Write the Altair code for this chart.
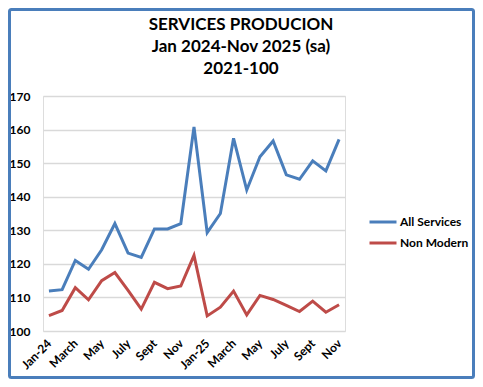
import altair as alt
import pandas as pd

months = [
    "Jan-24", "Feb-24", "Mar-24", "Apr-24", "May-24", "Jun-24", "Jul-24", "Aug-24",
    "Sep-24", "Oct-24", "Nov-24", "Dec-24", "Jan-25", "Feb-25", "Mar-25", "Apr-25",
    "May-25", "Jun-25", "Jul-25", "Aug-25", "Sep-25", "Oct-25", "Nov-25",
]
tick_labels = ["Jan-24", "March", "May", "July", "Sept", "Nov",
               "Jan-25", "March", "May", "July", "Sept", "Nov"]
all_services = [111.9, 112.3, 121.0, 118.4, 124.2, 132.0, 123.2, 121.9, 130.4, 130.4, 132.0, 160.8,
                129.3, 135.0, 157.4, 142.0, 151.9, 156.6, 146.5, 145.2, 150.7, 147.7, 157.1]
non_modern = [104.6, 106.1, 112.9, 109.3, 115.0, 117.4, 112.1, 106.5, 114.5, 112.6, 113.4, 122.5,
              104.5, 107.1, 111.9, 104.8, 110.6, 109.4, 107.6, 105.8, 108.9, 105.6, 107.8]
series_names = ["All Services", "Non Modern"]
series_colors = ["#4A7EBB", "#BE4B48"]
title_lines = ["SERVICES PRODUCION", "Jan 2024-Nov 2025 (sa)", "2021-100"]

rows = []
for i, m in enumerate(months):
    rows.append({"idx": i, "month": m, "series": series_names[0], "value": all_services[i]})
    rows.append({"idx": i, "month": m, "series": series_names[1], "value": non_modern[i]})
df = pd.DataFrame(rows)

label_arr = "[" + ",".join("'" + t + "'" for t in tick_labels) + "]"
FONT = "Lato"

lines = alt.Chart(df).mark_line(strokeWidth=3).encode(
    x=alt.X("idx:Q",
            scale=alt.Scale(domain=[-0.45, 22.45], nice=False, zero=False),
            axis=alt.Axis(values=list(range(0, 23, 2)), labelExpr=label_arr + "[datum.value/2]",
                          labelAngle=-45, labelAlign="right", labelBaseline="middle",
                          labelPadding=10, labelOverlap=False, grid=False, domain=False,
                          ticks=False, title=None,
                          labelFont=FONT, labelFontWeight="bold", labelFontSize=12,
                          labelColor="#000000")),
    y=alt.Y("value:Q",
            scale=alt.Scale(domain=[100, 170], nice=False, zero=False),
            axis=alt.Axis(values=list(range(100, 171, 10)), grid=True, gridColor="#d9d9d9",
                          gridWidth=1.5, domain=False, ticks=False, title=None, labelPadding=13,
                          labelFont=FONT, labelFontWeight="bold", labelFontSize=12,
                          labelColor="#000000")),
    color=alt.Color("series:N",
                    scale=alt.Scale(domain=series_names, range=series_colors),
                    legend=alt.Legend(orient="none", legendX=325, legendY=111, title=None,
                                      symbolType="stroke", symbolStrokeWidth=3, symbolSize=729,
                                      labelFont=FONT, labelFontWeight="bold", labelFontSize=12,
                                      labelColor="#000000", labelOffset=2, rowPadding=-1)),
)

border = alt.Chart(pd.DataFrame({"a": [0]})).mark_rect(
    filled=False, stroke="#4A7EBB", strokeWidth=3, cornerRadius=2
).encode(
    x=alt.value(-33.5), x2=alt.value(430.5), y=alt.value(-86.5), y2=alt.value(281.5)
)

title = alt.Chart(pd.DataFrame({"t": ["\n".join(title_lines)]})).mark_text(
    font=FONT, fontSize=17, fontWeight="bold", color="#000000", align="center",
    baseline="alphabetic", lineBreak="\n", lineHeight=22
).encode(
    text="t:N", x=alt.value(198), y=alt.value(-66)
)

chart = alt.layer(border, title, lines).properties(
    width=302, height=235,
    autosize=alt.AutoSizeParams(type="none"),
    padding={"left": 35, "top": 88, "right": 130, "bottom": 48},
).configure_view(strokeWidth=0).configure(background="white")

chart.save("out.html", embed_options={"renderer": "svg", "actions": False})
